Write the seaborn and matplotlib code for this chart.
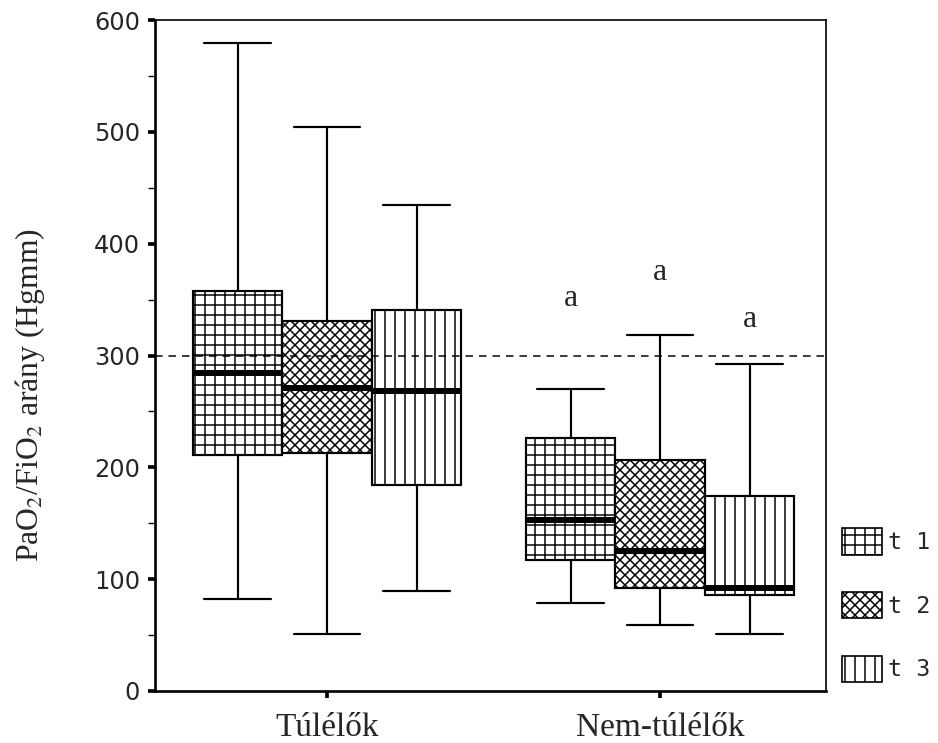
import numpy as np
import pandas as pd
import matplotlib
matplotlib.use("Agg")
import matplotlib.pyplot as plt
from matplotlib.patches import Patch
from matplotlib.ticker import MultipleLocator
import seaborn as sns

# Groups and measurement times
groups = ["Túlélők", "Nem-túlélők"]
times = ["t 1", "t 2", "t 3"]

# Five-number summaries per box: minimum, Q1, median, Q3, maximum
survivors_t1 = [82, 211, 284, 358, 579]
survivors_t2 = [51, 213, 271, 331, 504]
survivors_t3 = [89, 184, 268, 341, 435]
nonsurvivors_t1 = [79, 117, 153, 226, 270]
nonsurvivors_t2 = [59, 92, 125, 207, 318]
nonsurvivors_t3 = [51, 86, 92, 174, 292]

# Heights of the significance marks above the non-survivor boxes
sig_heights = [351, 374, 332]
sig_label = "a"

# Threshold line
threshold = 300

hatches = ["++", "xxxx", "||"]

summaries = {
    "Túlélők": [survivors_t1, survivors_t2, survivors_t3],
    "Nem-túlélők": [nonsurvivors_t1, nonsurvivors_t2, nonsurvivors_t3],
}
rows = []
for grp in groups:
    for t, vals in zip(times, summaries[grp]):
        for v in vals:
            rows.append({"csoport": grp, "idő": t, "érték": v})
df = pd.DataFrame(rows)

sns.set_style("ticks")
plt.rcParams["hatch.linewidth"] = 0.9
plt.rcParams["mathtext.fontset"] = "stix"

DPI = 120
fig = plt.figure(figsize=(938 / DPI, 743 / DPI), dpi=DPI)
ax = fig.add_axes([155 / 938, 1 - 691 / 743, 671 / 938, 671 / 743])

group_width = 0.806
box_w = group_width / len(times)

sns.boxplot(
    data=df, x="csoport", y="érték", hue="idő",
    order=groups, hue_order=times,
    whis=(0, 100), width=group_width, gap=0,
    palette=["white"] * 3, linecolor="black", linewidth=1.3,
    showfliers=False, legend=False, ax=ax,
    medianprops=dict(linewidth=3.6, color="black"),
    capwidths=0.2,
)

# Hatch each box according to its time point
for patch in ax.patches:
    verts = patch.get_path().vertices
    cx = (verts[:, 0].min() + verts[:, 0].max()) / 2
    k = int(round((cx - round(cx)) / box_w)) + 1
    patch.set_hatch(hatches[k])
    patch.set_edgecolor("black")

ax.axhline(threshold, color="black", lw=0.9, ls=(0, (5, 4)), zorder=10)

# Significance marks
for i, h in enumerate(sig_heights):
    ax.text(1 + (i - 1) * box_w, h, sig_label, ha="center", va="center",
            family="Liberation Serif", fontsize=19)

ax.set_xlim(-0.517, 1.498)
ax.set_ylim(0, 600)
ax.yaxis.set_major_locator(MultipleLocator(100))
ax.yaxis.set_minor_locator(MultipleLocator(50))
ax.tick_params(axis="y", which="major", direction="out", length=4, width=2.2,
               labelsize=14.5, pad=5, color="black")
ax.tick_params(axis="y", which="minor", direction="out", length=4, width=0.8,
               color="black")
ax.tick_params(axis="x", which="major", direction="out", length=4, width=2.2,
               pad=9, color="black")
ax.set_xticks([0, 1])
ax.set_xticklabels(groups, family="Liberation Serif", fontsize=20)
for lab in ax.get_yticklabels():
    lab.set_family("DejaVu Sans")

for side, lw in [("left", 1.6), ("bottom", 1.6), ("top", 1.0), ("right", 1.0)]:
    ax.spines[side].set_visible(True)
    ax.spines[side].set_linewidth(lw)
    ax.spines[side].set_color("black")

ax.set_xlabel("")
ax.set_ylabel(r"PaO$_2$/FiO$_2$ arány (Hgmm)", family="Liberation Serif",
              fontsize=19)
ax.yaxis.set_label_coords(-0.161, 0.441)

handles = [Patch(facecolor="white", edgecolor="black", hatch=h, lw=1.0)
           for h in hatches]
ax.legend(handles, times, loc="center left", bbox_to_anchor=(1.024, 0.128),
          frameon=False, prop={"family": "DejaVu Sans Mono", "size": 14},
          handlelength=1.7, handleheight=1.35, handletextpad=0.25,
          labelspacing=1.6, borderpad=0, borderaxespad=0)

fig.savefig("out.png", dpi=DPI)
